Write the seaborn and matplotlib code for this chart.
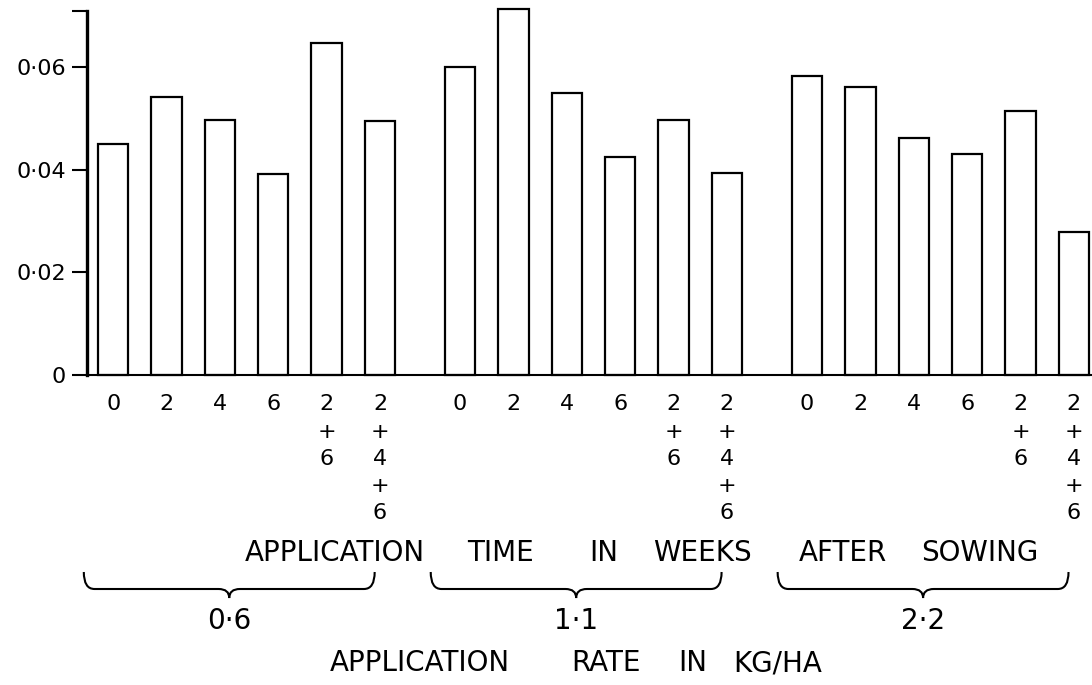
import pandas as pd
import matplotlib
matplotlib.use("Agg")
import matplotlib.pyplot as plt
import matplotlib.transforms as mtransforms
from matplotlib.path import Path
from matplotlib.patches import PathPatch
import seaborn as sns

# values
rates = ["0·6", "1·1", "2·2"]
weeks = ["0", "2", "4", "6", "2\n+\n6", "2\n+\n4\n+\n6"]
rate_06 = [0.0450, 0.0541, 0.0497, 0.0392, 0.0646, 0.0494]
rate_11 = [0.0599, 0.0713, 0.0550, 0.0425, 0.0496, 0.0393]
rate_22 = [0.0583, 0.0561, 0.0462, 0.0431, 0.0515, 0.0279]
y_ticks = [0, 0.02, 0.04, 0.06]
y_tick_labels = ["0", "0·02", "0·04", "0·06"]

# gap of 1.5 bar slots between rate groups
group_step = len(weeks) + 0.5

rows = []
for g, (rate, vals) in enumerate(zip(rates, [rate_06, rate_11, rate_22])):
    for i, (wk, v) in enumerate(zip(weeks, vals)):
        rows.append({"rate": rate, "week": wk, "value": v, "pos": g * group_step + i})
df = pd.DataFrame(rows)

sns.set_style("white")
plt.rcParams["font.family"] = ["DejaVu Sans"]
plt.rcParams["text.color"] = "black"
plt.rcParams["xtick.labelcolor"] = "black"
plt.rcParams["ytick.labelcolor"] = "black"

W, H = 1092, 685
fig = plt.figure(figsize=(W / 100, H / 100), dpi=100)
ax = fig.add_axes([87 / W, 1 - 375 / H, 1 - 87 / W, (375 - 11) / H])

sns.barplot(
    data=df, x="pos", y="value", native_scale=True, fill=False,
    color="black", width=0.57, linewidth=1.6, errorbar=None, ax=ax,
)
for bar in ax.patches:
    bar.set_clip_on(False)

ax.set_xlim(-0.49, 18.34)
ax.set_ylim(0, 0.0709)
ax.set_xlabel("")
ax.set_ylabel("")

ax.set_xticks(df["pos"], df["week"], fontsize=16, linespacing=1.45)
ax.tick_params(axis="x", length=0, pad=14)
ax.set_yticks(y_ticks, y_tick_labels, fontsize=16)
ax.set_yticks([0.0709], minor=True)
ax.tick_params(axis="y", which="both", direction="out", length=11, width=1.5,
               pad=4, color="black", left=True)

for side in ["top", "right"]:
    ax.spines[side].set_visible(False)
ax.spines["left"].set_linewidth(2.4)
ax.spines["bottom"].set_linewidth(1.5)
ax.spines["left"].set_color("black")
ax.spines["bottom"].set_color("black")


def fy(px):
    return 1 - px / H


# curly braces under each rate group
trans = mtransforms.blended_transform_factory(ax.transData, fig.transFigure)
y_top, y_line, y_tip = fy(572), fy(589), fy(598)
dx = 0.2
for g, rate in enumerate(rates):
    x0 = g * group_step - 0.55
    x1 = g * group_step + len(weeks) - 1 - 0.1
    xm = (x0 + x1) / 2
    verts = [
        (x0, y_top), (x0, y_line), (x0 + dx, y_line),
        (xm - dx, y_line), (xm, y_line), (xm, y_tip),
        (xm, y_line), (xm + dx, y_line),
        (x1 - dx, y_line), (x1, y_line), (x1, y_top),
    ]
    codes = [
        Path.MOVETO, Path.CURVE3, Path.CURVE3,
        Path.LINETO, Path.CURVE3, Path.CURVE3,
        Path.CURVE3, Path.CURVE3,
        Path.LINETO, Path.CURVE3, Path.CURVE3,
    ]
    ax.add_patch(PathPatch(Path(verts, codes), transform=trans, fill=False,
                           edgecolor="black", linewidth=1.5, clip_on=False))
    ax.text(xm, fy(621), rate, transform=trans, ha="center", va="center",
            fontsize=20, clip_on=False)

# captions under the axis, placed word by word as lettered
line1 = [("APPLICATION", 245), ("TIME", 467), ("IN", 589), ("WEEKS", 653),
         ("AFTER", 799), ("SOWING", 921)]
for word, left in line1:
    fig.text(left / W, fy(553), word, ha="left", va="center", fontsize=20)

line2 = [("APPLICATION", 330), ("RATE", 571), ("IN", 678), ("KG/HA", 733)]
for word, left in line2:
    fig.text(left / W, fy(663), word, ha="left", va="center", fontsize=20)

fig.savefig("out.png", dpi=100)
